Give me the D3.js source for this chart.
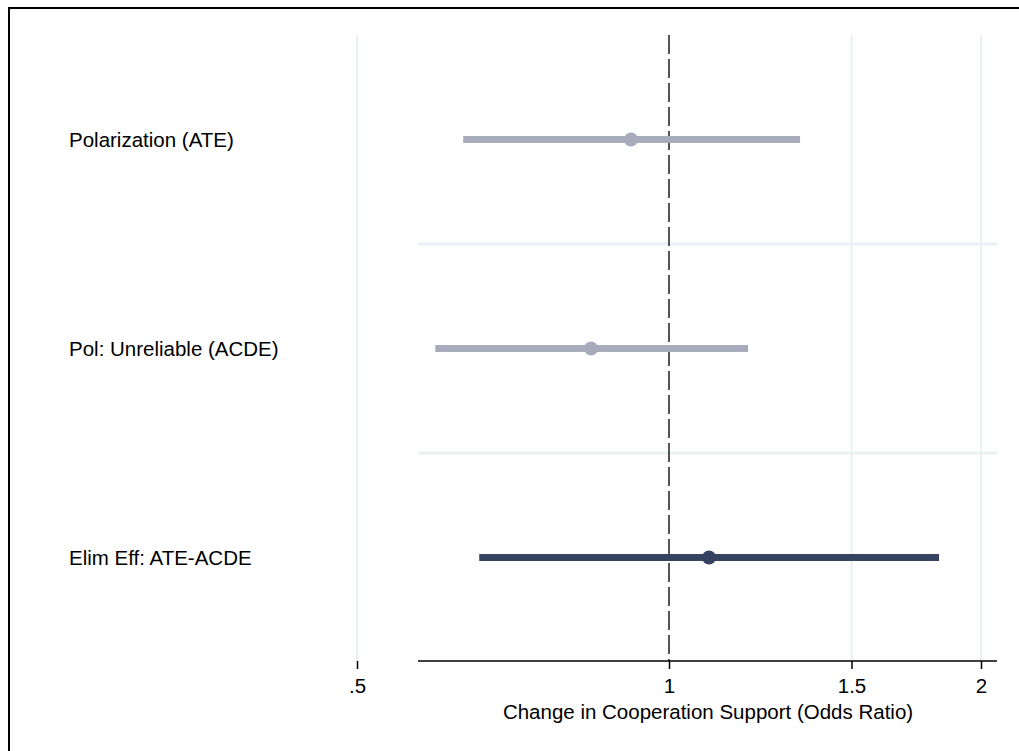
<!DOCTYPE html>
<html>
<head>
<meta charset="utf-8">
<script src="https://cdn.jsdelivr.net/npm/d3@7"></script>
<style>
  html, body { margin: 0; padding: 0; background: #fff; }
  svg { display: block; font-family: "Liberation Sans", Arial, sans-serif; }
</style>
</head>
<body>
<svg id="chart" width="1019" height="751"></svg>
<script>
// Estimates (odds ratios) with 95% confidence bounds
const labels = ["Polarization (ATE)", "Pol: Unreliable (ACDE)", "Elim Eff: ATE-ACDE"];
const estimates = [0.919, 0.841, 1.093];
const lowers = [0.633, 0.595, 0.656];
const uppers = [1.338, 1.192, 1.822];
const colors = ["#a7abbb", "#a7abbb", "#34435f"];
const tickValues = [0.5, 1, 1.5, 2];
const tickLabels = [".5", "1", "1.5", "2"];

const svg = d3.select("#chart");

// Outer frame
svg.append("rect")
  .attr("x", 9).attr("y", 8)
  .attr("width", 1030).attr("height", 760)
  .attr("fill", "none").attr("stroke", "#000").attr("stroke-width", 2);

const x = d3.scaleLog().domain([0.5, 2]).range([357, 981]);
const y = d3.scaleBand().domain(labels).range([35, 662]);

const plotLeft = 418, plotRight = 997, plotTop = 35, axisY = 661;

// Vertical grid lines at tick positions (except the reference line)
svg.append("g").selectAll("line")
  .data(tickValues.filter(v => v !== 1))
  .join("line")
  .attr("x1", d => x(d)).attr("x2", d => x(d))
  .attr("y1", plotTop).attr("y2", axisY)
  .attr("stroke", "#eaf1f2").attr("stroke-width", 2);

// Horizontal separators between rows
svg.append("g").selectAll("line")
  .data(labels.slice(1))
  .join("line")
  .attr("x1", plotLeft).attr("x2", plotRight)
  .attr("y1", d => y(d)).attr("y2", d => y(d))
  .attr("stroke", "#eaf1f2").attr("stroke-width", 3);

// Reference line at odds ratio 1
svg.append("line")
  .attr("x1", x(1)).attr("x2", x(1))
  .attr("y1", plotTop).attr("y2", axisY)
  .attr("stroke", "#555").attr("stroke-width", 2)
  .attr("stroke-dasharray", "19,5");

// Confidence intervals and point estimates
const rows = svg.append("g").selectAll("g")
  .data(labels.map((l, i) => ({ label: l, est: estimates[i], lo: lowers[i], hi: uppers[i], color: colors[i] })))
  .join("g");

rows.append("line")
  .attr("x1", d => x(d.lo)).attr("x2", d => x(d.hi))
  .attr("y1", d => y(d.label) + y.bandwidth() / 2)
  .attr("y2", d => y(d.label) + y.bandwidth() / 2)
  .attr("stroke", d => d.color).attr("stroke-width", 7);

rows.append("circle")
  .attr("cx", d => x(d.est))
  .attr("cy", d => y(d.label) + y.bandwidth() / 2)
  .attr("r", 7)
  .attr("fill", d => d.color);

// Row labels
rows.append("text")
  .attr("x", 69)
  .attr("y", d => y(d.label) + y.bandwidth() / 2)
  .attr("dy", "0.36em")
  .attr("font-size", 20.5)
  .attr("fill", "#000")
  .text(d => d.label);

// X axis
svg.append("line")
  .attr("x1", plotLeft).attr("x2", plotRight)
  .attr("y1", axisY).attr("y2", axisY)
  .attr("stroke", "#000").attr("stroke-width", 1.5);

const axis = d3.axisBottom(x)
  .tickValues(tickValues)
  .tickFormat((d, i) => tickLabels[i])
  .tickSize(8)
  .tickPadding(9);

const ax = svg.append("g")
  .attr("transform", `translate(0,${axisY})`)
  .call(axis);
ax.select(".domain").remove();
ax.selectAll(".tick line").attr("stroke", "#000").attr("stroke-width", 1.5);
ax.selectAll(".tick text")
  .attr("font-size", 20.5)
  .attr("font-family", "Liberation Sans, Arial, sans-serif")
  .attr("fill", "#000");

// Axis title
svg.append("text")
  .attr("x", 708).attr("y", 719)
  .attr("text-anchor", "middle")
  .attr("font-size", 20.5)
  .attr("fill", "#000")
  .text("Change in Cooperation Support (Odds Ratio)");
</script>
</body>
</html>
